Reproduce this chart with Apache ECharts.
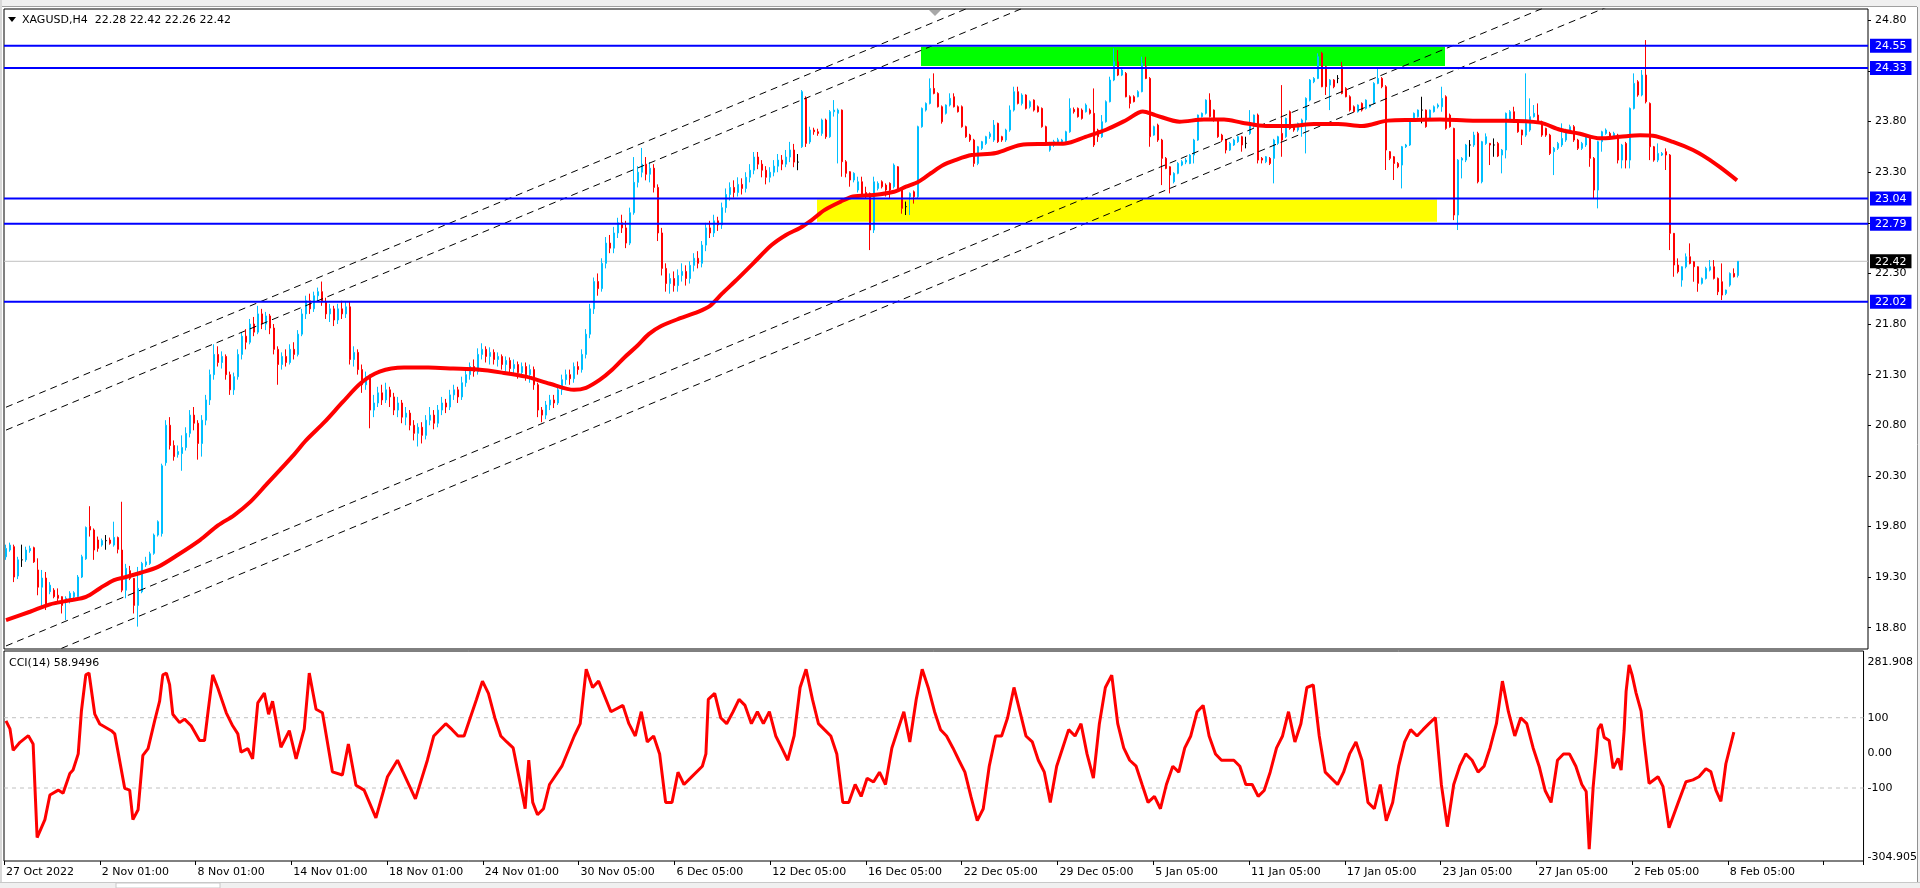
<!DOCTYPE html>
<html><head><meta charset="utf-8">
<script src="https://cdn.jsdelivr.net/npm/echarts@6/dist/echarts.min.js"></script>
<style>html,body{margin:0;padding:0;background:#fff;overflow:hidden}#c{width:1920px;height:888px}</style>
</head><body><div id="c"></div>
<script>
// ---------------- DATA ----------------
const symbolTitle = 'XAGUSD,H4  22.28 22.42 22.26 22.42';
const cciTitle = 'CCI(14) 58.9496';
const xLabels = ['27 Oct 2022','2 Nov 01:00','8 Nov 01:00','14 Nov 01:00','18 Nov 01:00','24 Nov 01:00','30 Nov 05:00','6 Dec 05:00','12 Dec 05:00','16 Dec 05:00','22 Dec 05:00','29 Dec 05:00','5 Jan 05:00','11 Jan 05:00','17 Jan 05:00','23 Jan 05:00','27 Jan 05:00','2 Feb 05:00','8 Feb 05:00'];
const priceTicks = [18.8,19.3,19.8,20.3,20.8,21.3,21.8,22.3,22.8,23.3,23.8,24.3,24.8];
const levelLines = [24.55,24.33,23.04,22.79,22.02];
const bidPrice = 22.42;
const cciLevels = [100,-100];
const cciTicks = [281.908,100,0,-100,-304.905];
// candles: [open, close, low, high], one per H4 bar
const candles = [
[19.50,19.583,19.47,19.62],[19.567,19.616,19.55,19.64],[19.60,19.30,19.25,19.62],[19.31,19.47,19.28,19.50],[19.47,19.47,19.40,19.62],
[19.47,19.567,19.45,19.60],[19.56,19.583,19.54,19.61],[19.59,19.45,19.44,19.60],[19.37,19.20,19.12,19.485],[19.20,19.29,19.007,19.37],
[19.29,19.02,18.974,19.35],[19.155,19.22,19.13,19.25],[19.17,19.106,19.09,19.19],[19.12,19.09,19.056,19.188],[19.106,19.02,18.94,19.11],
[19.056,19.09,18.875,19.11],[19.073,19.14,19.04,19.16],[19.106,19.145,19.09,19.16],[19.106,19.30,19.09,19.32],[19.30,19.50,19.29,19.52],
[19.48,19.79,19.47,19.80],[19.80,19.765,19.70,20.0],[19.765,19.567,19.47,19.78],[19.666,19.583,19.55,19.70],[19.616,19.66,19.60,19.68],
[19.66,19.66,19.57,19.715],[19.666,19.633,19.62,19.69],[19.616,19.692,19.60,19.847],[19.69,19.574,19.534,19.70],[19.567,19.17,19.15,20.044],
[19.17,19.386,19.09,19.43],[19.363,19.287,19.27,19.41],[19.287,19.02,18.94,19.29],[19.02,19.188,18.81,19.40],[19.155,19.435,19.14,19.45],
[19.42,19.45,19.40,19.50],[19.435,19.53,19.42,19.55],[19.534,19.715,19.52,19.73],[19.715,19.847,19.70,19.86],[19.73,20.40,19.70,20.42],
[20.43,20.80,20.40,20.85],[20.80,20.60,20.56,20.88],[20.60,20.49,20.45,20.65],[20.51,20.54,20.48,20.60],[20.52,20.58,20.35,20.70],
[20.58,20.72,20.55,20.78],[20.72,20.90,20.68,20.95],[20.90,20.82,20.75,20.98],[20.82,20.62,20.46,20.85],[20.62,20.85,20.49,20.90],
[20.85,21.05,20.80,21.10],[21.05,21.30,21.00,21.35],[21.30,21.50,21.25,21.60],[21.50,21.42,21.38,21.58],[21.42,21.48,21.36,21.53],
[21.48,21.30,21.25,21.50],[21.30,21.15,21.10,21.33],[21.15,21.28,21.10,21.32],[21.28,21.50,21.25,21.55],[21.50,21.68,21.45,21.72],
[21.68,21.62,21.55,21.75],[21.62,21.80,21.60,21.85],[21.80,21.72,21.68,21.87],[21.72,21.90,21.70,21.98],[21.90,21.80,21.75,21.95],
[21.80,21.88,21.74,21.92],[21.88,21.76,21.70,21.90],[21.76,21.55,21.50,21.80],[21.55,21.40,21.20,21.58],[21.40,21.48,21.35,21.52],
[21.48,21.42,21.38,21.55],[21.42,21.55,21.40,21.60],[21.55,21.50,21.45,21.62],[21.50,21.70,21.48,21.74],[21.70,21.90,21.68,21.95],
[21.90,22.03,21.85,22.08],[22.03,21.95,21.90,22.10],[21.95,22.08,21.92,22.12],[22.08,22.12,22.02,22.16],[22.12,22.02,21.98,22.22],
[22.02,21.90,21.85,22.06],[21.90,21.95,21.82,22.00],[21.95,21.84,21.78,21.98],[21.84,21.95,21.80,22.00],[21.95,21.90,21.85,22.03],
[21.90,21.97,21.86,22.02],[21.97,21.45,21.40,22.02],[21.45,21.52,21.38,21.58],[21.52,21.35,21.30,21.55],[21.35,21.20,21.12,21.40],
[21.20,21.28,21.15,21.33],[21.28,20.95,20.77,21.30],[20.95,21.02,20.88,21.10],[21.02,21.12,20.98,21.18],[21.12,21.05,21.00,21.20],
[21.05,21.15,21.02,21.22],[21.15,21.08,20.98,21.18],[21.08,20.95,20.90,21.12],[20.95,21.02,20.88,21.08],[21.02,20.88,20.82,21.05],
[20.88,20.92,20.80,20.98],[20.92,20.80,20.75,20.95],[20.80,20.72,20.65,20.85],[20.72,20.78,20.59,20.82],[20.78,20.70,20.62,20.83],
[20.70,20.85,20.66,20.90],[20.85,20.90,20.80,20.98],[20.90,20.82,20.76,20.95],[20.82,20.95,20.78,21.00],[20.95,21.02,20.90,21.08],
[21.02,20.98,20.92,21.06],[20.98,21.10,20.95,21.15],[21.10,21.15,21.05,21.20],[21.15,21.08,21.02,21.18],[21.08,21.22,21.05,21.28],
[21.22,21.30,21.18,21.36],[21.30,21.38,21.25,21.42],[21.38,21.33,21.28,21.45],[21.33,21.50,21.30,21.56],[21.50,21.55,21.45,21.61],
[21.55,21.48,21.42,21.58],[21.48,21.52,21.40,21.57],[21.52,21.45,21.40,21.55],[21.45,21.48,21.38,21.52],[21.48,21.40,21.35,21.50],
[21.40,21.44,21.33,21.48],[21.44,21.36,21.30,21.47],[21.36,21.40,21.30,21.45],[21.40,21.32,21.26,21.43],[21.32,21.38,21.28,21.42],
[21.38,21.30,21.24,21.42],[21.30,21.35,21.22,21.40],[21.35,21.20,21.15,21.38],[21.20,20.95,20.88,21.22],[20.95,20.90,20.83,20.98],
[20.90,21.00,20.86,21.04],[21.00,21.05,20.95,21.10],[21.05,21.02,20.97,21.10],[21.02,21.15,21.00,21.20],[21.15,21.25,21.10,21.30],
[21.25,21.30,21.20,21.35],[21.30,21.26,21.20,21.35],[21.26,21.38,21.22,21.42],[21.38,21.35,21.30,21.43],[21.35,21.50,21.32,21.55],
[21.50,21.70,21.46,21.75],[21.70,21.95,21.66,22.00],[21.95,22.22,21.90,22.26],[22.22,22.15,22.08,22.30],[22.15,22.40,22.12,22.45],
[22.40,22.60,22.35,22.66],[22.60,22.55,22.50,22.68],[22.55,22.70,22.50,22.76],[22.70,22.80,22.65,22.85],[22.80,22.75,22.70,22.88],
[22.75,22.60,22.55,22.82],[22.60,22.90,22.58,22.95],[22.90,23.20,22.88,23.45],[23.20,23.30,23.15,23.36],[23.30,23.38,23.25,23.54],
[23.38,23.28,23.22,23.45],[23.28,23.34,23.20,23.40],[23.34,23.15,23.10,23.38],[23.15,22.70,22.62,23.18],[22.70,22.35,22.28,22.75],
[22.35,22.20,22.12,22.40],[22.20,22.25,22.10,22.30],[22.25,22.18,22.12,22.32],[22.18,22.28,22.12,22.34],[22.28,22.32,22.22,22.40],
[22.32,22.25,22.18,22.38],[22.25,22.38,22.20,22.42],[22.38,22.45,22.32,22.50],[22.45,22.40,22.35,22.52],[22.40,22.58,22.36,22.62],
[22.58,22.75,22.52,22.80],[22.75,22.70,22.65,22.82],[22.70,22.82,22.66,22.88],[22.82,22.78,22.72,22.86],[22.78,22.95,22.74,23.00],
[22.95,23.08,22.90,23.14],[23.08,23.15,23.02,23.20],[23.15,23.10,23.05,23.22],[23.10,23.18,23.06,23.25],[23.18,23.14,23.08,23.24],
[23.14,23.25,23.10,23.30],[23.25,23.32,23.20,23.38],[23.32,23.45,23.28,23.50],[23.45,23.38,23.33,23.50],[23.38,23.32,23.25,23.42],
[23.32,23.25,23.18,23.36],[23.25,23.30,23.20,23.35],[23.30,23.36,23.26,23.42],[23.36,23.42,23.30,23.48],[23.42,23.38,23.32,23.47],
[23.38,23.45,23.35,23.52],[23.45,23.52,23.40,23.60],[23.52,23.40,23.35,23.58],[23.40,23.40,23.32,23.48],[23.552,24.096,23.54,24.112],
[24.03,23.585,23.55,24.05],[23.60,23.717,23.58,23.75],[23.717,23.70,23.67,23.74],[23.70,23.684,23.66,23.73],[23.684,23.816,23.66,23.83],
[23.816,23.651,23.63,23.83],[23.651,23.898,23.64,23.914],[23.898,23.914,23.85,24.013],[23.882,23.914,23.387,23.93],[23.914,23.404,23.256,23.92],
[23.404,23.289,23.25,23.42],[23.305,23.223,23.157,23.31],[23.223,23.289,23.20,23.30],[23.124,23.206,23.10,23.256],[23.206,23.074,23.06,23.256],
[23.10,23.058,23.04,23.157],[23.091,22.729,22.531,23.10],[22.729,23.206,22.70,23.256],[23.14,23.19,23.12,23.21],[23.206,23.157,23.14,23.22],
[23.173,23.124,23.06,23.19],[23.19,23.124,23.04,23.20],[23.157,23.371,23.14,23.387],[23.354,23.124,23.11,23.36],[23.124,22.943,22.89,23.13],
[22.96,22.96,22.877,23.01],[23.058,23.091,22.877,23.10],[23.107,23.058,22.99,23.12],[23.058,23.750,23.042,23.76],[23.750,23.931,23.74,23.94],
[23.914,23.980,23.90,23.99],[23.980,24.128,23.97,24.227],[24.128,24.079,24.07,24.277],[24.079,23.947,23.94,24.09],[23.947,23.799,23.78,23.96],
[23.882,23.964,23.87,23.97],[23.964,24.030,23.95,24.08],[24.046,23.947,23.94,24.08],[23.947,23.898,23.89,23.96],[23.947,23.750,23.74,23.96],
[23.750,23.651,23.64,23.76],[23.667,23.618,23.60,23.68],[23.618,23.387,23.354,23.63],[23.387,23.552,23.37,23.56],[23.536,23.602,23.52,23.61],
[23.585,23.651,23.57,23.66],[23.651,23.68,23.63,23.70],[23.618,23.766,23.60,23.816],[23.783,23.602,23.59,23.79],[23.651,23.618,23.60,23.66],
[23.618,23.717,23.60,23.73],[23.717,23.914,23.70,23.96],[23.914,24.096,23.90,24.145],[24.096,23.980,23.97,24.145],[23.98,24.063,23.96,24.08],
[24.063,23.931,23.92,24.07],[23.947,23.997,23.93,24.01],[24.013,23.914,23.90,24.02],[23.947,23.898,23.89,23.96],[23.931,23.750,23.74,23.94],
[23.750,23.585,23.57,23.76],[23.519,23.585,23.503,23.60],[23.569,23.602,23.55,23.62],[23.60,23.62,23.58,23.64],[23.585,23.618,23.57,23.63],
[23.602,23.700,23.59,23.71],[23.700,23.931,23.69,24.030],[23.92,23.898,23.88,23.94],[23.931,23.849,23.84,23.94],[23.914,23.832,23.82,23.93],
[23.898,23.964,23.89,23.98],[23.914,23.882,23.87,23.93],[23.882,23.569,23.55,24.128],[23.717,23.651,23.60,23.73],[23.651,23.799,23.64,23.865],
[23.799,23.997,23.79,24.01],[23.997,24.211,23.99,24.244],[24.211,24.392,24.20,24.524],[24.392,24.260,24.25,24.507],[24.260,24.310,24.25,24.32],
[24.277,24.046,24.04,24.29],[24.046,23.980,23.931,24.06],[24.046,23.997,23.99,24.06],[24.046,24.096,24.04,24.11],[24.096,24.376,24.09,24.442],
[24.343,24.227,24.22,24.44],[24.227,23.651,23.552,24.24],[23.667,23.750,23.66,23.76],[23.766,23.618,23.60,23.78],[23.618,23.437,23.173,23.63],
[23.437,23.338,23.33,23.45],[23.354,23.272,23.091,23.36],[23.206,23.289,23.19,23.30],[23.289,23.387,23.28,23.40],[23.371,23.404,23.36,23.42],
[23.40,23.42,23.38,23.44],[23.387,23.470,23.38,23.48],[23.470,23.618,23.387,23.63],[23.618,23.865,23.61,23.87],[23.849,23.882,23.84,23.89],
[23.882,24.013,23.87,24.02],[24.013,23.849,23.84,24.08],[23.914,23.816,23.80,23.92],[23.816,23.651,23.64,23.82],[23.667,23.618,23.60,23.68],
[23.618,23.519,23.486,23.63],[23.519,23.585,23.51,23.60],[23.569,23.618,23.56,23.63],[23.602,23.651,23.59,23.66],[23.651,23.569,23.503,23.66],
[23.585,23.585,23.536,23.651],[23.684,23.766,23.67,23.914],[23.750,23.865,23.74,23.87],[23.865,23.420,23.387,23.88],[23.437,23.420,23.387,23.45],
[23.404,23.453,23.39,23.46],[23.437,23.387,23.371,23.45],[23.437,23.618,23.19,23.63],[23.585,23.651,23.57,23.66],[23.684,23.618,23.453,24.161],
[23.651,23.832,23.64,23.84],[23.898,23.733,23.72,23.91],[23.750,23.717,23.70,23.76],[23.717,23.783,23.70,23.79],[23.750,23.816,23.651,23.83],
[23.816,24.030,23.486,24.04],[24.013,24.211,24.00,24.22],[24.194,24.227,24.18,24.24],[24.227,24.442,24.22,24.475],[24.475,24.145,24.14,24.49],
[24.343,24.145,24.063,24.35],[24.161,24.211,23.914,24.22],[24.211,24.145,24.13,24.22],[24.227,24.227,24.18,24.26],[24.343,24.079,24.07,24.39],
[24.128,24.046,24.04,24.14],[24.046,23.914,23.90,24.06],[23.947,23.898,23.89,23.96],[23.898,23.964,23.89,23.97],[23.980,23.914,23.90,23.99],
[23.931,24.013,23.92,24.02],[23.947,23.964,23.94,23.97],[23.980,24.178,23.97,24.19],[24.178,24.227,24.17,24.326],[24.227,24.145,24.13,24.24],
[24.145,23.519,23.322,24.16],[23.503,23.437,23.42,23.51],[23.453,23.387,23.223,23.46],[23.387,23.354,23.34,23.40],[23.371,23.552,23.14,23.56],
[23.552,23.569,23.54,23.58],[23.569,23.816,23.56,23.82],[23.816,23.882,23.80,23.89],[23.849,23.914,23.84,23.92],[23.914,23.914,23.783,24.046],
[23.914,23.750,23.74,23.92],[23.832,23.914,23.82,23.92],[23.898,23.947,23.89,23.96],[23.947,23.964,23.93,23.98],[23.947,24.030,23.898,24.145],
[24.046,23.733,23.72,24.06],[23.865,23.750,23.74,23.88],[23.733,22.877,22.827,23.74],[22.877,23.420,22.729,23.43],[23.420,23.437,23.239,23.45],
[23.42,23.569,23.40,23.58],[23.569,23.569,23.453,23.618],[23.569,23.667,23.55,23.700],[23.684,23.206,23.19,23.70],[23.206,23.602,23.190,23.61],
[23.585,23.651,23.57,23.684],[23.585,23.569,23.371,23.59],[23.569,23.569,23.453,23.634],[23.585,23.460,23.45,23.60],[23.470,23.519,23.289,23.53],
[23.519,23.882,23.437,23.89],[23.816,23.898,23.80,23.914],[23.898,23.799,23.79,23.947],[23.799,23.700,23.69,23.81],[23.717,23.667,23.569,23.72],
[23.667,23.783,23.65,24.277],[23.717,23.849,23.70,24.030],[23.849,23.882,23.84,23.964],[23.865,23.799,23.79,23.980],[23.799,23.667,23.65,23.81],
[23.733,23.667,23.65,23.74],[23.667,23.486,23.47,23.68],[23.503,23.536,23.272,23.55],[23.536,23.585,23.52,23.60],[23.569,23.634,23.55,23.783],
[23.618,23.717,23.60,23.73],[23.717,23.750,23.70,23.77],[23.750,23.618,23.60,23.766],[23.618,23.536,23.52,23.63],[23.536,23.585,23.52,23.60],
[23.569,23.651,23.55,23.67],[23.634,23.437,23.354,23.65],[23.437,23.124,23.042,23.45],[23.124,23.602,22.943,23.61],[23.602,23.700,23.503,23.71],
[23.684,23.717,23.67,23.733],[23.684,23.651,23.64,23.70],[23.651,23.684,23.64,23.70],[23.667,23.420,23.387,23.68],[23.420,23.569,23.338,23.58],
[23.585,23.420,23.338,23.60],[23.420,23.931,23.338,23.94],[23.931,24.178,23.92,24.277],[24.194,24.063,24.046,24.21],[24.063,24.260,24.05,24.310],
[24.260,23.997,23.98,24.606],[23.980,23.552,23.420,23.99],[23.552,23.420,23.404,23.56],[23.420,23.486,23.40,23.585],[23.470,23.486,23.46,23.50],
[23.503,23.470,23.322,23.536],[23.470,22.696,22.531,23.48],[22.696,22.383,22.267,22.70],[22.383,22.317,22.30,22.449],[22.234,22.366,22.169,22.37],
[22.366,22.465,22.35,22.498],[22.465,22.399,22.39,22.597],[22.416,22.366,22.218,22.42],[22.366,22.202,22.119,22.37],[22.202,22.251,22.19,22.26],
[22.251,22.350,22.24,22.366],[22.333,22.366,22.32,22.432],[22.366,22.251,22.24,22.432],[22.251,22.119,22.086,22.26],[22.218,22.086,22.037,22.399],
[22.103,22.136,22.086,22.14],[22.185,22.300,22.169,22.31],[22.300,22.267,22.26,22.350],[22.28,22.42,22.26,22.42]
];
// moving average: [bar, price]
const maPoints = [[0,18.875],[6,18.957],[11,19.03],[16,19.07],[20,19.105],[23.5,19.19],[27,19.27],[30,19.30],[33.5,19.34],[38,19.40],[43,19.52],[48.5,19.665],[53,19.81],[57,19.91],[61,20.04],[65,20.21],[68.5,20.36],[72,20.51],[75,20.65],[79.6,20.83],[84.2,21.03],[88.8,21.22],[93.4,21.33],[99.5,21.37],[105.6,21.37],[111.8,21.36],[117.9,21.35],[124,21.32],[130,21.28],[136,21.21],[142,21.15],[145,21.17],[148.5,21.25],[151.6,21.35],[154.6,21.47],[157.7,21.58],[160.7,21.70],[163.8,21.78],[168.4,21.855],[173,21.92],[176,21.98],[179,22.10],[182.2,22.22],[186.8,22.40],[191.4,22.58],[195,22.68],[198.5,22.75],[201.5,22.83],[204.6,22.926],[208.7,23.01],[211.75,23.06],[216.9,23.075],[222,23.107],[225,23.157],[228.1,23.206],[231.2,23.29],[234.2,23.37],[237.3,23.42],[241.4,23.47],[247.5,23.49],[253.6,23.57],[259.7,23.58],[264.8,23.585],[269.9,23.65],[275,23.72],[280.1,23.816],[284.2,23.90],[287.3,23.865],[293.4,23.80],[299.5,23.82],[304.5,23.82],[309,23.79],[315,23.757],[321,23.757],[327,23.776],[333,23.776],[339,23.757],[345.5,23.81],[351.5,23.816],[358.5,23.82],[366.75,23.81],[375,23.81],[383.5,23.79],[388.5,23.72],[393.5,23.68],[398.5,23.635],[403.5,23.65],[408.5,23.665],[411.75,23.66],[416.75,23.60],[421.75,23.52],[425.25,23.44],[428.5,23.35],[432.75,23.22]];
// CCI(14): [bar, value]
const cciPoints = [[0,91],[1,68],[1.8,7],[3.5,30],[5.6,49],[6.8,25],[7.25,-96],[7.8,-241],[9.75,-190],[11,-120],[13.1,-106],[14.3,-115],[16,-59],[16.8,-49],[18.1,-3],[18.9,119],[20,222],[20.8,227],[22.25,110],[23.5,82],[26.4,63],[27.25,54],[29.75,-101],[31,-106],[31.8,-190],[33.1,-162],[34.3,-7],[35.6,12],[37.25,91],[38.5,147],[39.3,222],[40.2,227],[41,194],[41.8,110],[43.5,86],[44.75,96],[46.4,77],[48.5,35],[49.75,35],[50.6,114],[51.8,222],[53.1,184],[55.2,114],[56.8,77],[58.1,54],[58.9,2],[60.6,12],[61.8,-17],[63.1,142],[64.75,170],[65.8,110],[66.8,147],[67.7,91],[68.9,16],[71,63],[72.7,-17],[74.75,68],[76,227],[77.7,124],[79.3,114],[81.8,-54],[84.3,-63],[85.8,25],[87.7,-92],[89.75,-106],[92.7,-185],[95.6,-68],[98.1,-21],
[99.5,-55],[102.6,-131],[105.6,-21],[107.2,48],[110.2,83],[111.8,66],[113.3,48],[114.8,48],[117.9,152],[119.4,204],[120.9,169],[122.5,100],[124,48],[125.5,31],[127.1,14],[128.6,-72],[130.1,-159],[131,-21],[132,-141],[133.2,-176],[134.7,-159],[136.2,-90],[139.3,-38],[142.4,48],[143.9,83],[145.4,238],[147,186],[148.5,204],[151.6,117],[154.6,135],[156.1,83],[157.7,48],[159.2,117],[160.7,31],[162.3,48],[163.8,-3],[165.3,-141],[166.9,-141],[168.4,-55],[169.9,-90],[171.5,-72],[174.5,-38],[175.4,-3],[176,152],[177.6,169],[179.1,100],[180.6,83],[182.2,117],[183.7,152],[185.2,135],[186.8,83],[188.3,117],[189.8,83],[191.3,117],[192.9,48],[194.4,14],[195.9,-21],[197.5,48],[199,186],[200.5,238],[202.1,152],[203.6,83],[205.1,66],[206.7,48],[208.2,-3],[209.7,-141],[211.2,-141],[212.8,-90],[214.3,-124],[215.8,-72],[217.4,-83],[218.9,-55],[220.4,-90],[222,14],[223.5,66],[225,117],[226.5,31],[228.1,152],[229.6,238],[231.1,186],[232.7,117],[234.2,66],[235.7,48],[237.3,14],[238.8,-21],[240.3,-55],[241.8,-124],[243.4,-193],[244.9,-159],[246.4,-38],[248,48],[249.5,48],[251,100],[252.6,186],[254.1,117],[255.6,48],[257.2,31],[258.7,-21],[260.2,-55],[261.7,-141],[263.3,-38],[264.8,14],[266.3,66],[267.9,48],[269.4,83],[270.9,-3],[272.5,-72],[274,83],[275.5,186],[277.1,221],[278.6,83],[280.1,14],[281.6,-21],[283.2,-38],[284.7,-90],[286.2,-141],[287.8,-124],[289.3,-159],[290.8,-90],[292.4,-38],[293.9,-55],[295.4,14],[296.9,48],[298.5,117],[300,135],[301.5,48],[303.1,-3],[304.6,-21],[307.7,-21],[309.2,-38],[310.7,-90],[312.3,-90],[313.8,-124],[315.3,-107],[316.8,-55],[318.4,14],[319.9,48],[321.4,117],[323,31],[324.5,83],[326,186],[327.6,193],[329.1,48],[330.6,-55],[332.1,-72],[333.7,-90],[335.2,-55],[336.7,-3],[338.3,31],[339.8,-21],[341.3,-141],[342.9,-159],[344.4,-90],[345.9,-193],[347.5,-141],[349,-38],[350.5,31],[352,66],[353.6,48],[355.1,66],[356.6,83],[358.2,100],[359.7,-90],[361.2,-210],[362.8,-90],[364.3,-38],[365.8,-3],[367.4,-21],[368.9,-55],[370.4,-38],[371.9,14],[373.5,83],[375,204],[376.5,117],[378.1,48],[379.6,100],[381.1,83],[382.7,14],[384.2,-38],[385.7,-107],[387.2,-141],[388.8,-21],[390.3,-3],[391.8,-3],[393.4,-38],[394.9,-90],
[396,-110],[396.75,-274],[397.75,-96],[398.5,-3],[399,68],[399.75,82],[400.5,44],[401.75,35],[402.75,-44],[404,-16],[404.75,-49],[405.5,63],[406,175],[406.75,250],[407.5,222],[408.5,170],[409.75,119],[410.5,35],[411.75,-87],[414,-68],[415.25,-96],[416.75,-213],[419,-143],[421,-82],[422.75,-77],[424.25,-68],[426,-45],[427.25,-54],[428.5,-106],[429.75,-138],[430.25,-96],[431,-31],[433,58.95]];
// equidistant channel lines: [bar, price] pairs
const channelLines = [[[0,20.978],[465,28.604]],[[0,20.752],[465,28.378]],[[0,18.619],[465,26.245]],[[0,18.368],[465,25.994]]];
// rectangles: [barFrom, barTo, priceTop, priceBottom]
const zones = [[228.75,359.75,24.54,24.35],[202.75,357.75,23.03,22.81]];

// ---------------- CHART ----------------
const NCAT = 466;
const FONT = 'DejaVu Sans';
const cats = Array.from({length: NCAT}, (_, i) => String(i));
const zoneColors = ['#00ff00', '#ffff00'];
const chart = echarts.init(document.getElementById('c'), null, {renderer: 'canvas'});
const G0 = {left: 4, top: 9, width: 1864, height: 640};
const G1 = {left: 4, top: 651, width: 1864, height: 210};

const series = [];
series.push({
  type: 'custom', xAxisIndex: 1, yAxisIndex: 0, z: 1, silent: true,
  data: zones,
  renderItem: (params, api) => {
    const p0 = api.coord([api.value(0), api.value(2)]);
    const p1 = api.coord([api.value(1), api.value(3)]);
    return {type: 'rect', shape: {x: p0[0], y: p0[1], width: p1[0]-p0[0], height: p1[1]-p0[1]}, style: {fill: zoneColors[params.dataIndex]}};
  }
});
channelLines.forEach(seg => series.push({
  type: 'line', xAxisIndex: 1, yAxisIndex: 0, z: 4, silent: true, symbol: 'none', clip: true,
  data: seg, lineStyle: {color: '#000', width: 1, type: [7, 5]}
}));
series.push({
  type: 'candlestick', xAxisIndex: 0, yAxisIndex: 0, z: 3, barWidth: 2,
  data: candles,
  itemStyle: {color: '#00bfff', color0: '#ff0000', borderColor: '#00bfff', borderColor0: '#ff0000', borderColorDoji: '#000000', borderWidth: 1}
});
series.push({
  type: 'line', xAxisIndex: 1, yAxisIndex: 0, z: 5, silent: true, symbol: 'none', smooth: 0.3,
  data: maPoints, lineStyle: {color: '#ff0000', width: 4}
});
levelLines.forEach(p => series.push({
  type: 'line', xAxisIndex: 1, yAxisIndex: 0, z: 6, silent: true, symbol: 'none',
  data: [[-0.5, p], [NCAT - 0.5, p]], lineStyle: {color: '#0000ff', width: 2}
}));
series.push({
  type: 'line', xAxisIndex: 1, yAxisIndex: 0, z: 2, silent: true, symbol: 'none',
  data: [[-0.5, bidPrice], [NCAT - 0.5, bidPrice]], lineStyle: {color: '#c0c0c0', width: 1}
});
cciLevels.forEach(v => series.push({
  type: 'line', xAxisIndex: 3, yAxisIndex: 2, z: 2, silent: true, symbol: 'none',
  data: [[-0.5, v], [NCAT - 0.5, v]], lineStyle: {color: '#c0c0c0', width: 1, type: [4, 4]}
}));
series.push({
  type: 'line', xAxisIndex: 3, yAxisIndex: 2, z: 5, silent: true, symbol: 'none',
  data: cciPoints, lineStyle: {color: '#ff0000', width: 3}
});

const lbl = {fontFamily: FONT, fontSize: 11, color: '#000'};
const noLine = {show: false, onZero: false};
const option = {
  animation: false,
  backgroundColor: '#ffffff',
  grid: [
    Object.assign({show: true, borderColor: '#000', borderWidth: 1, backgroundColor: '#fff'}, G0),
    Object.assign({show: true, borderColor: '#000', borderWidth: 1, backgroundColor: '#fff'}, G1)
  ],
  xAxis: [
    {type: 'category', gridIndex: 0, data: cats, boundaryGap: true, axisLine: noLine, axisTick: {show: false}, axisLabel: {show: false}, splitLine: {show: false}},
    {type: 'value', gridIndex: 0, min: -0.5, max: NCAT - 0.5, show: false, axisLine: noLine},
    {type: 'category', gridIndex: 1, data: cats, boundaryGap: true, position: 'bottom',
      axisLine: noLine,
      axisTick: {show: true, length: 4, alignWithLabel: false, interval: i => i % 24 === 0, lineStyle: {color: '#000'}},
      axisLabel: Object.assign({show: true, interval: i => i % 24 === 0, align: 'left', margin: 6, formatter: (v, i) => xLabels[i / 24] || ''}, lbl),
      splitLine: {show: false}},
    {type: 'value', gridIndex: 1, min: -0.5, max: NCAT - 0.5, show: false, axisLine: noLine}
  ],
  yAxis: [
    {type: 'value', gridIndex: 0, position: 'right', min: 18.589, max: 24.913, scale: true,
      axisLine: noLine, splitLine: {show: false},
      axisTick: {show: true, length: 3, customValues: priceTicks, lineStyle: {color: '#000'}},
      axisLabel: Object.assign({show: true, margin: 7, customValues: priceTicks, formatter: v => v.toFixed(2)}, lbl)},
    {type: 'value', gridIndex: 0, position: 'right', min: 18.589, max: 24.913, scale: true,
      axisLine: noLine, splitLine: {show: false}, axisTick: {show: false},
      axisLabel: {show: true, margin: 2, customValues: levelLines.concat([bidPrice]),
        formatter: v => (v === bidPrice ? '{k|' : '{b|') + v.toFixed(2) + '}',
        rich: {
          b: {fontFamily: FONT, fontSize: 11, color: '#fff', backgroundColor: '#0000ff', padding: [2, 5, 1, 5]},
          k: {fontFamily: FONT, fontSize: 11, color: '#fff', backgroundColor: '#000000', padding: [2, 5, 1, 5]}
        }}},
    {type: 'value', gridIndex: 1, position: 'right', min: -307.7, max: 289.8,
      axisLine: noLine, splitLine: {show: false}, axisTick: {show: false},
      axisLabel: {show: true, margin: 4, customValues: cciTicks,
        formatter: v => v === 0 ? '{n|0.00}' : (Math.abs(v) === 100 ? '{n|' + v + '}' : (v > 0 ? '{t|' + v.toFixed(3) + '}' : '{u|' + v.toFixed(3) + '}')),
        rich: {
          n: {fontFamily: FONT, fontSize: 11, color: '#000'},
          t: {fontFamily: FONT, fontSize: 11, color: '#000', padding: [16, 0, 0, 0]},
          u: {fontFamily: FONT, fontSize: 11, color: '#000', padding: [0, 0, 6, 0]}
        }}}
  ],
  series: series,
  graphic: [
    {type: 'rect', z: 100, shape: {x: 0, y: 0, width: 1920, height: 7}, style: {fill: '#f0f0f0'}},
    {type: 'line', z: 100, shape: {x1: 0, y1: 6.5, x2: 1920, y2: 6.5}, style: {stroke: '#a0a0a0', lineWidth: 1}},
    {type: 'rect', z: 100, shape: {x: 0, y: 0, width: 2, height: 888}, style: {fill: '#d8d8d8'}},
    {type: 'rect', z: 100, shape: {x: 1917, y: 0, width: 3, height: 888}, style: {fill: '#f0f0f0'}},
    {type: 'line', z: 100, shape: {x1: 1917.5, y1: 7, x2: 1917.5, y2: 882}, style: {stroke: '#909090', lineWidth: 1}},
    {type: 'rect', z: 100, shape: {x: 0, y: 882, width: 1920, height: 6}, style: {fill: '#f0f0f0'}},
    {type: 'line', z: 100, shape: {x1: 0, y1: 882.5, x2: 1920, y2: 882.5}, style: {stroke: '#c8c8c8', lineWidth: 1}},
    {type: 'rect', z: 101, shape: {x: 116, y: 883, width: 104, height: 5}, style: {fill: '#ffffff', stroke: '#c8c8c8', lineWidth: 1}},
    {type: 'polygon', z: 100, shape: {points: [[8, 17], [16, 17], [12, 22]]}, style: {fill: '#000'}},
    {type: 'text', z: 100, x: 22, y: 20, style: {text: symbolTitle, font: '11px "DejaVu Sans"', fill: '#000', verticalAlign: 'middle'}},
    {type: 'text', z: 100, x: 9, y: 663, style: {text: cciTitle, font: '11px "DejaVu Sans"', fill: '#000', verticalAlign: 'middle'}},
    {type: 'polygon', z: 100, shape: {points: [[929, 10], [941, 10], [935, 16]]}, style: {fill: '#a8a8a8'}}
  ]
};
chart.setOption(option);
</script>
</body></html>
